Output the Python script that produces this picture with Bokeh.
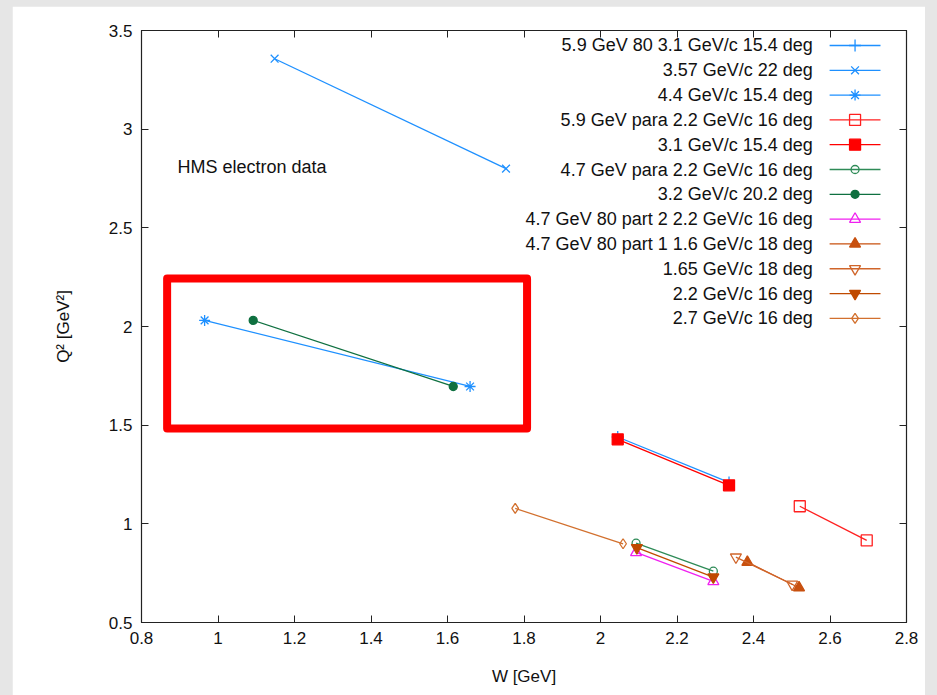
from bokeh.plotting import figure
from bokeh.models import ColumnDataSource, FixedTicker, LinearAxis, Range1d
from bokeh.layouts import column
from bokeh.embed import file_html
from bokeh.resources import INLINE
from bokeh.core.properties import value

# ---------------- data ----------------
series_labels = [
    "5.9 GeV 80 3.1 GeV/c 15.4 deg",
    "3.57 GeV/c 22 deg",
    "4.4 GeV/c 15.4 deg",
    "5.9 GeV para 2.2 GeV/c 16 deg",
    "3.1 GeV/c 15.4 deg",
    "4.7 GeV para 2.2 GeV/c 16 deg",
    "3.2 GeV/c 20.2 deg",
    "4.7 GeV 80 part 2 2.2 GeV/c 16 deg",
    "4.7 GeV 80 part 1 1.6 GeV/c 18 deg",
    "1.65 GeV/c 18 deg",
    "2.2 GeV/c 16 deg",
    "2.7 GeV/c 16 deg",
]
W_values = [
    [2.045, 2.336],
    [1.148, 1.753],
    [0.965, 1.659],
    [2.521, 2.696],
    [2.045, 2.336],
    [2.093, 2.295],
    [1.092, 1.615],
    [2.093, 2.295],
    [2.384, 2.519],
    [2.354, 2.501],
    [2.095, 2.295],
    [1.777, 2.059],
]
Q2_values = [
    [1.44, 1.21],
    [3.357, 2.800],
    [2.031, 1.696],
    [1.089, 0.916],
    [1.428, 1.195],
    [0.902, 0.760],
    [2.031, 1.696],
    [0.855, 0.708],
    [0.806, 0.676],
    [0.831, 0.694],
    [0.879, 0.730],
    [1.078, 0.899],
]
x_ticks = [0.8, 1.0, 1.2, 1.4, 1.6, 1.8, 2.0, 2.2, 2.4, 2.6, 2.8]
x_tick_labels = ["0.8", "1", "1.2", "1.4", "1.6", "1.8", "2", "2.2", "2.4", "2.6", "2.8"]
y_ticks = [0.5, 1.0, 1.5, 2.0, 2.5, 3.0, 3.5]
y_tick_labels = ["0.5", "1", "1.5", "2", "2.5", "3", "3.5"]
annotation_text = "HMS electron data"

# ---------------- styles ----------------
colors = ["#1e90ff", "#1e90ff", "#1e90ff", "#ff2020", "#ff0000", "#2e8b57",
          "#0f7040", "#f020f0", "#c8500f", "#d0652a", "#c04a00", "#d2702e"]
markers = ["cross", "x", "asterisk", "square", "square", "circle", "circle",
           "triangle", "triangle", "inverted_triangle", "inverted_triangle", "diamond"]
filled = [False, False, False, False, True, False, True, False, True, False, True, False]
msize = [12, 11, 11, 11, 11, 8, 8, 11, 11, 11, 11, 10]
FONT = "Liberation Sans"

p = figure(width=913, height=689, output_backend="svg", toolbar_location=None,
           x_range=Range1d(0.8, 2.8), y_range=Range1d(0.5, 3.5),
           min_border_left=129, min_border_right=19, min_border_top=24, min_border_bottom=73,
           x_axis_label="W [GeV]", y_axis_label="Q² [GeV²]")
p.background_fill_color = "white"
p.border_fill_color = "white"
p.outline_line_color = "#222222"
p.outline_line_width = 1.2
p.xgrid.visible = False
p.ygrid.visible = False

for ax, ticks, labels in ((p.xaxis[0], x_ticks, x_tick_labels), (p.yaxis[0], y_ticks, y_tick_labels)):
    ax.ticker = FixedTicker(ticks=ticks)
    ax.major_label_overrides = {t: l for t, l in zip(ticks, labels)}
    ax.major_tick_in = 7
    ax.major_tick_out = 0
    ax.minor_tick_line_color = None
    ax.axis_line_color = "#222222"
    ax.major_tick_line_color = "#222222"
    ax.major_label_text_font = FONT
    ax.major_label_text_font_size = "17px"
    ax.major_label_text_color = "#111111"
    ax.axis_label_text_font = FONT
    ax.axis_label_text_font_size = "17px"
    ax.axis_label_text_font_style = "normal"
    ax.axis_label_text_color = "#111111"
    ax.major_label_standoff = 9

p.xaxis[0].axis_label_standoff = 20
p.yaxis[0].axis_label_standoff = 33

for loc, ticks in (("above", x_ticks), ("right", y_ticks)):
    ax = LinearAxis(ticker=FixedTicker(ticks=ticks), major_tick_in=7, major_tick_out=0,
                    minor_tick_line_color=None, major_label_text_font_size="1px",
                    major_label_text_color=None,
                    major_label_standoff=0, axis_line_color="#222222",
                    major_tick_line_color="#222222")
    p.add_layout(ax, loc)

# highlight box
box_left, box_right, box_bottom, box_top = 0.867, 1.808, 1.483, 2.243
p.quad(left=[box_left], right=[box_right], bottom=[box_bottom], top=[box_top],
       fill_color=None, line_color="#ff0000", line_width=8, line_join="round")

# series
for i, lab in enumerate(series_labels):
    src = ColumnDataSource(dict(x=W_values[i], y=Q2_values[i]))
    p.line("x", "y", source=src, line_color=colors[i], line_width=1.3)
    p.scatter("x", "y", source=src, marker=markers[i], size=msize[i],
              line_color=colors[i], line_width=1.3,
              fill_color=colors[i] if filled[i] else None)

# annotation text
p.text(x=[0.894], y=[2.806], text=[annotation_text], text_font=value(FONT),
       text_font_size="18px", text_align="left", text_baseline="middle", text_color="#111111")

# custom gnuplot-style legend (text right-aligned, sample to the right)
legend_top, legend_step = 3.424, 0.1257
leg_text_x, leg_x0, leg_x1 = 2.555, 2.599, 2.732
leg_y = [legend_top - k * legend_step for k in range(len(series_labels))]
p.text(x=[leg_text_x] * len(series_labels), y=leg_y, text=series_labels,
       text_font=value(FONT), text_font_size="18px", text_align="right",
       text_baseline="middle", text_color="#111111")
for i in range(len(series_labels)):
    p.line(x=[leg_x0, leg_x1], y=[leg_y[i], leg_y[i]], line_color=colors[i], line_width=1.3)
    p.scatter(x=[(leg_x0 + leg_x1) / 2], y=[leg_y[i]], marker=markers[i], size=msize[i],
              line_color=colors[i], line_width=1.3,
              fill_color=colors[i] if filled[i] else None)

root = column(p, styles={"background-color": "#e6e6e6", "padding": "6px 12px 0px 12px"})
open("out.html", "w").write(file_html(root, INLINE))
